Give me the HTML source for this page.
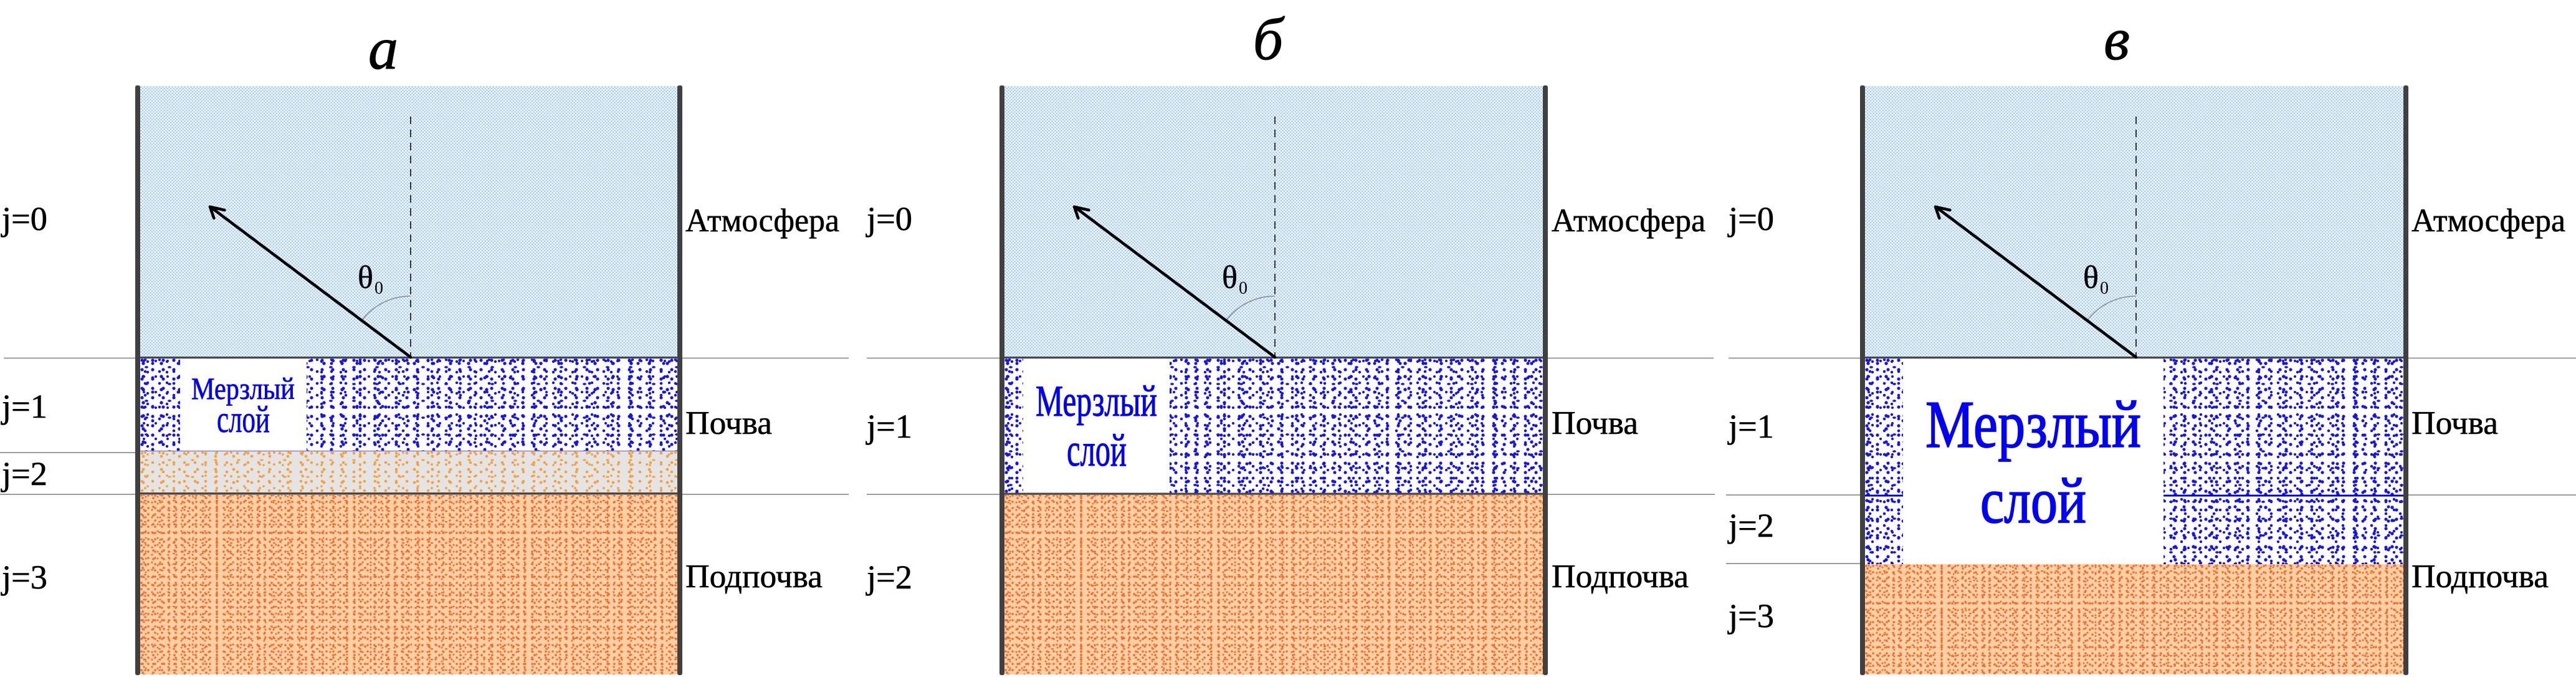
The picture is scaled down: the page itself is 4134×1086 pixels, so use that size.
<!DOCTYPE html>
<html><head><meta charset="utf-8">
<style>
html,body{margin:0;padding:0;background:#fff;}
body{width:4134px;height:1086px;position:relative;overflow:hidden;}
.f{position:absolute;}
.atm{background-color:#f1f7fe;background-image:radial-gradient(circle at 1.5px 1.5px,#98c3f2 0.9px,transparent 1.5px),radial-gradient(circle at 4px 4px,#98c3f2 0.9px,transparent 1.5px);background-size:5px 5px,5px 5px;}
.soil{background-color:#fff;background-image:
radial-gradient(circle at 3px 4px,#1414ee 2.3px,transparent 2.8px),
radial-gradient(circle at 8px 3px,#1414ee 2px,transparent 2.5px),
radial-gradient(circle at 5px 9px,#1414ee 2.4px,transparent 2.9px),
radial-gradient(circle at 12px 6px,#1414ee 1.9px,transparent 2.4px),
radial-gradient(ellipse 3.2px 2px at 10px 15px,#1414ee 80%,transparent 100%),
radial-gradient(circle at 6px 5px,#1414ee 1.8px,transparent 2.3px),
radial-gradient(circle at 20px 9px,#1414ee 2.2px,transparent 2.7px);
background-size:17px 15px,23px 19px,29px 21px,31px 17px,37px 27px,19px 25px,41px 23px;}
.j2{background-color:#e4e4e4;background-image:
radial-gradient(circle at 3px 4px,#f8a03c 2px,transparent 2.5px),
radial-gradient(circle at 8px 3px,#f8a03c 1.7px,transparent 2.2px),
radial-gradient(circle at 5px 9px,#f8a03c 2.1px,transparent 2.6px),
radial-gradient(circle at 12px 6px,#f8a03c 1.6px,transparent 2.1px),
radial-gradient(ellipse 3px 1.8px at 10px 15px,#f8a03c 80%,transparent 100%);
background-size:17px 15px,23px 19px,29px 21px,31px 17px,37px 27px;}
.sub{background-color:#fdcfa3;background-image:
radial-gradient(circle at 2px 3px,#f36a2b 1.5px,transparent 2px),
radial-gradient(circle at 6px 2px,#f36a2b 1.3px,transparent 1.8px),
radial-gradient(circle at 4px 7px,#f36a2b 1.6px,transparent 2.1px),
radial-gradient(circle at 9px 5px,#f36a2b 1.2px,transparent 1.7px),
radial-gradient(ellipse 2.4px 1.4px at 8px 11px,#f36a2b 80%,transparent 100%);
background-size:11px 10px,13px 12px,17px 14px,19px 11px,23px 17px;}
.w{background:#fff;}
svg{position:absolute;left:0;top:0;}
svg text{font-family:"Liberation Serif","DejaVu Serif","Noto Serif CJK SC",serif;}
</style></head>
<body>
<!-- Panel a fills -->
<div class="f atm" style="left:225px;top:138px;width:862px;height:436px"></div>
<div class="f soil" style="left:225px;top:574px;width:862px;height:149px"></div>
<div class="f w" style="left:289px;top:575px;width:203px;height:148px"></div>
<div class="f j2" style="left:225px;top:723px;width:862px;height:68px"></div>
<div class="f sub" style="left:225px;top:792px;width:862px;height:290px"></div>
<!-- Panel b fills -->
<div class="f atm" style="left:1612px;top:138px;width:864px;height:436px"></div>
<div class="f soil" style="left:1612px;top:574px;width:864px;height:217px"></div>
<div class="f w" style="left:1642px;top:575px;width:235px;height:216px"></div>
<div class="f sub" style="left:1612px;top:792px;width:864px;height:290px"></div>
<!-- Panel c fills -->
<div class="f atm" style="left:2993px;top:138px;width:864px;height:436px"></div>
<div class="f soil" style="left:2993px;top:574px;width:864px;height:331px"></div>
<div class="f w" style="left:3054px;top:575px;width:418px;height:331px"></div>
<div class="f sub" style="left:2993px;top:905px;width:864px;height:177px"></div>

<svg width="4134" height="1086" viewBox="0 0 4134 1086" xmlns="http://www.w3.org/2000/svg" font-family="Liberation Serif, DejaVu Serif, serif">
  <defs>
    <g id="ray">
      <line x1="659" y1="187" x2="659" y2="573" stroke="#333" stroke-width="2" stroke-dasharray="12 9"/>
      <path d="M659,475 A98,98 0 0,0 580.6,514.2" fill="none" stroke="#8a8a8a" stroke-width="1.6"/>
      <line x1="659" y1="573" x2="339" y2="333" stroke="#000" stroke-width="4.6" stroke-linecap="round"/>
      <polyline points="360.3,337 337,331.7 343.3,350" fill="none" stroke="#000" stroke-width="4.6" stroke-linecap="round" stroke-linejoin="round"/>
      <text x="574" y="462" font-size="52" font-family="Liberation Serif, DejaVu Serif, serif" stroke="#000" stroke-width="0.5">θ</text>
      <text x="601" y="471" font-size="28" font-family="Liberation Serif, DejaVu Serif, serif">0</text>
    </g>
  </defs>

  <!-- gray outer lines -->
  <g stroke="#9c9c9c" stroke-width="2">
    <line x1="6" y1="574.5" x2="1362" y2="574.5"/>
    <line x1="0" y1="726" x2="217" y2="726"/>
    <line x1="0" y1="793" x2="1362" y2="793"/>
    <line x1="1391" y1="574.5" x2="2750" y2="574.5"/>
    <line x1="1391" y1="793" x2="2752" y2="793"/>
    <line x1="2774" y1="574.5" x2="4134" y2="574.5"/>
    <line x1="2770" y1="794" x2="2989" y2="794"/>
    <line x1="3865" y1="794" x2="4134" y2="794"/>
    <line x1="2770" y1="904" x2="2989" y2="904"/>
  </g>

  <!-- boundary lines inside panels -->
  <g stroke="#474747" stroke-width="3">
    <line x1="225" y1="573.5" x2="1087" y2="573.5"/>
    <line x1="225" y1="791.5" x2="1087" y2="791.5"/>
    <line x1="1612" y1="573.5" x2="2476" y2="573.5"/>
    <line x1="1612" y1="792" x2="2476" y2="792"/>
    <line x1="2993" y1="573.5" x2="3857" y2="573.5"/>
  </g>
  <line x1="225" y1="723.5" x2="1087" y2="723.5" stroke="#7070ff" stroke-width="1.2"/>
  <g stroke="#0000e0" stroke-width="3">
    <line x1="2993" y1="795" x2="3054" y2="795"/>
    <line x1="3472" y1="795" x2="3857" y2="795"/>
  </g>

  <!-- rays -->
  <use href="#ray"/>
  <use href="#ray" transform="translate(1387,0)"/>
  <use href="#ray" transform="translate(2769,0)"/>

  <!-- walls -->
  <g fill="#404040">
    <rect x="217" y="137" width="8" height="946" rx="3"/>
    <rect x="1087" y="137" width="8" height="946" rx="3"/>
    <rect x="1604" y="137" width="8" height="946" rx="3"/>
    <rect x="2476" y="137" width="8" height="946" rx="3"/>
    <rect x="2985" y="137" width="8" height="946" rx="3"/>
    <rect x="3857" y="137" width="8" height="946" rx="3"/>
  </g>

  <!-- titles -->
  <g font-style="italic" font-size="96" text-anchor="middle" fill="#000" stroke="#000" stroke-width="1">
    <text x="615" y="110">а</text>
    <text x="2035" y="95">б</text>
    <text x="3397" y="95">в</text>
  </g>

  <!-- frozen layer text -->
  <g fill="#0000ff" stroke="#0000ff" text-anchor="middle">
    <text x="390" y="640" font-size="50" stroke-width="0.8" textLength="166" lengthAdjust="spacingAndGlyphs">Мерзлый</text>
    <text x="390.5" y="693" font-size="61" stroke-width="0.8" textLength="85" lengthAdjust="spacingAndGlyphs">слой</text>
    <text x="1759.5" y="667" font-size="71" stroke-width="1.1" textLength="195" lengthAdjust="spacingAndGlyphs">Мерзлый</text>
    <text x="1760" y="747" font-size="74" stroke-width="1.1" textLength="96" lengthAdjust="spacingAndGlyphs">слой</text>
    <text x="3263" y="717" font-size="108" stroke-width="1.8" textLength="346" lengthAdjust="spacingAndGlyphs">Мерзлый</text>
    <text x="3263" y="838" font-size="104" stroke-width="1.8" textLength="170" lengthAdjust="spacingAndGlyphs">слой</text>
  </g>

  <!-- j labels -->
  <g font-size="54" fill="#000" stroke="#000" stroke-width="0.6">
    <text x="3" y="369" textLength="73" lengthAdjust="spacingAndGlyphs">j=0</text>
    <text x="3" y="670" textLength="73" lengthAdjust="spacingAndGlyphs">j=1</text>
    <text x="3" y="778" textLength="73" lengthAdjust="spacingAndGlyphs">j=2</text>
    <text x="3" y="944" textLength="73" lengthAdjust="spacingAndGlyphs">j=3</text>

    <text x="1391" y="369" textLength="73" lengthAdjust="spacingAndGlyphs">j=0</text>
    <text x="1391" y="702" textLength="73" lengthAdjust="spacingAndGlyphs">j=1</text>
    <text x="1391" y="944" textLength="73" lengthAdjust="spacingAndGlyphs">j=2</text>

    <text x="2774" y="369" textLength="73" lengthAdjust="spacingAndGlyphs">j=0</text>
    <text x="2774" y="702" textLength="73" lengthAdjust="spacingAndGlyphs">j=1</text>
    <text x="2774" y="861" textLength="73" lengthAdjust="spacingAndGlyphs">j=2</text>
    <text x="2774" y="1006" textLength="73" lengthAdjust="spacingAndGlyphs">j=3</text>
  </g>

  <!-- right labels -->
  <g font-size="53" fill="#000" stroke="#000" stroke-width="0.6">
    <text x="1100" y="371" textLength="247" lengthAdjust="spacingAndGlyphs">Атмосфера</text>
    <text x="1100" y="696" textLength="139" lengthAdjust="spacingAndGlyphs">Почва</text>
    <text x="1100" y="942" textLength="220" lengthAdjust="spacingAndGlyphs">Подпочва</text>

    <text x="2490" y="371" textLength="247" lengthAdjust="spacingAndGlyphs">Атмосфера</text>
    <text x="2490" y="696" textLength="139" lengthAdjust="spacingAndGlyphs">Почва</text>
    <text x="2490" y="942" textLength="220" lengthAdjust="spacingAndGlyphs">Подпочва</text>

    <text x="3870" y="371" textLength="247" lengthAdjust="spacingAndGlyphs">Атмосфера</text>
    <text x="3870" y="696" textLength="139" lengthAdjust="spacingAndGlyphs">Почва</text>
    <text x="3870" y="942" textLength="220" lengthAdjust="spacingAndGlyphs">Подпочва</text>
  </g>
</svg>
</body></html>
